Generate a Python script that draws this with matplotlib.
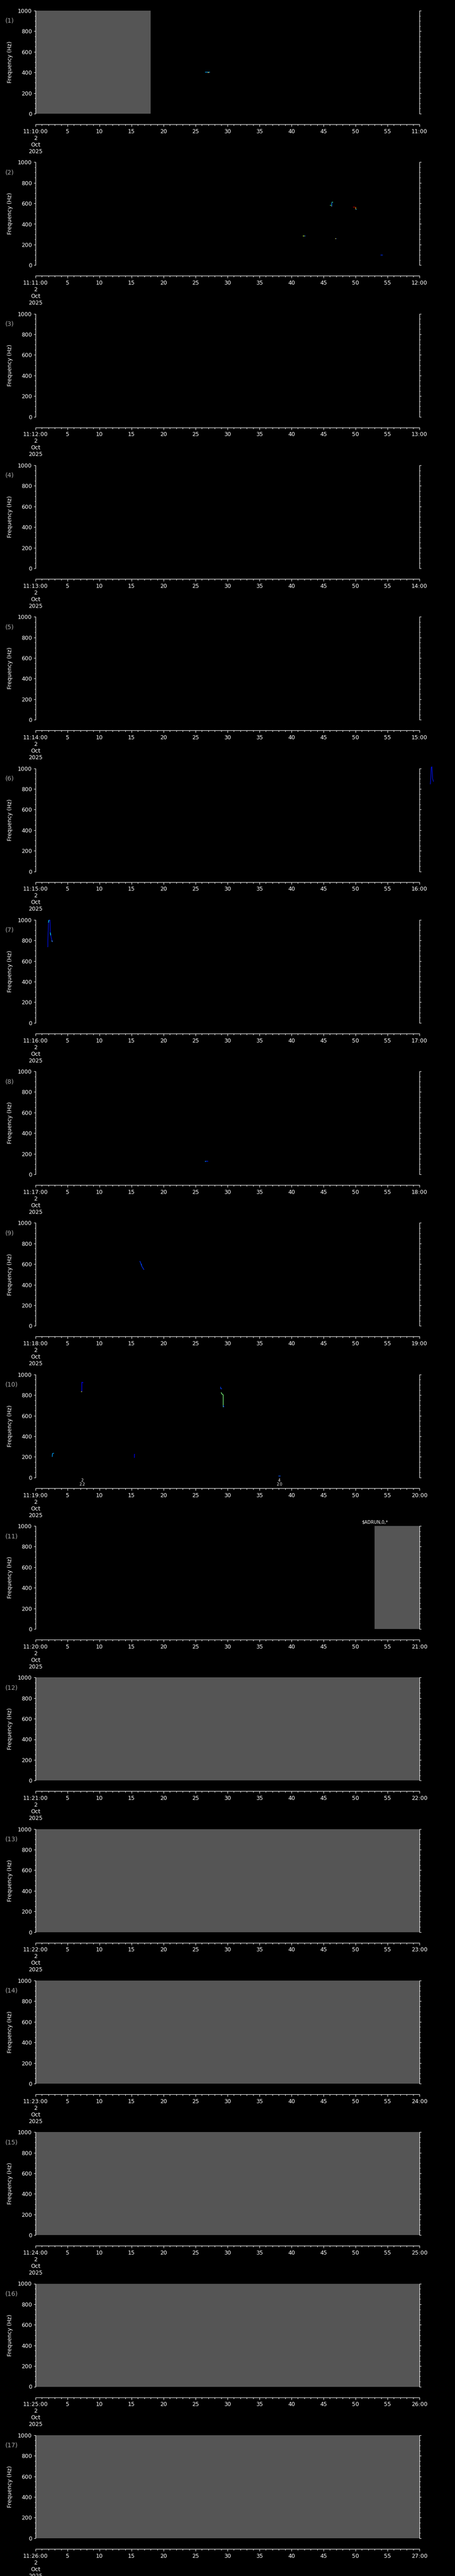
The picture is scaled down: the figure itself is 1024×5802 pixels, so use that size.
import matplotlib
matplotlib.use("Agg")
import matplotlib.pyplot as plt
from matplotlib.ticker import FixedLocator, MultipleLocator

# one panel per minute, 11:10 .. 11:26 on 2 Oct 2025
panel_minutes = list(range(10, 27))
x_major = [0, 5, 10, 15, 20, 25, 30, 35, 40, 45, 50, 55, 60]
y_major = [0, 200, 400, 600, 800, 1000]

# grey "no data" spans (panel number, start s, end s)
gray_panel = [1, 11, 12, 13, 14, 15, 16, 17]
gray_start = [0, 53, 0, 0, 0, 0, 0, 0]
gray_end = [18, 60, 60, 60, 60, 60, 60, 60]

# detected whistle traces (panel, seconds, Hz, colour)
trace_panel = [1, 1,
               2, 2, 2, 2, 2, 2, 2, 2, 2, 2, 2, 2,
               6,
               7, 7, 7, 7,
               8, 8,
               9, 9,
               10, 10, 10, 10, 10, 10, 10, 10]
trace_t = [[26.45, 27.2], [26.85, 27.05],
           [46.27, 46.27], [46.27, 46.45], [46.0, 46.2], [46.15, 46.25],
           [49.55, 49.95], [50.0, 50.0], [50.02, 50.15],
           [41.74, 42.03], [42.03, 42.15],
           [46.8, 46.92], [46.92, 46.98],
           [53.9, 54.24],
           [61.7, 61.75, 61.85, 61.95, 62.05, 62.2],
           [1.85, 1.92, 1.92, 2.03, 2.13, 2.27, 2.31, 2.38, 2.55, 2.62],
           [2.03, 2.07, 2.13],
           [2.31, 2.34, 2.38],
           [2.55, 2.62],
           [26.46, 26.92], [26.5, 26.6],
           [16.3, 16.5, 16.6, 16.8, 16.95], [16.5, 16.6],
           [7.23, 7.23, 7.3, 7.46], [7.06, 7.2],
           [28.91, 28.95, 29.14], [29.0, 29.14, 29.33, 29.33], [29.33, 29.45],
           [2.61, 2.65, 2.88],
           [15.4, 15.4, 15.5],
           [37.9, 38.25]]
trace_f = [[404, 404], [401, 401],
           [572, 610], [612, 612], [582, 582], [575, 575],
           [568, 568], [566, 545], [544, 544],
           [284, 284], [284, 284],
           [258, 258], [258, 258],
           [99, 99],
           [845, 880, 1010, 1015, 900, 870],
           [738, 738, 796, 973, 997, 997, 876, 850, 800, 786],
           [973, 995, 997],
           [876, 860, 850],
           [800, 786],
           [128, 128], [128, 124],
           [630, 600, 580, 560, 545], [600, 590],
           [831, 924, 924, 917], [834, 834],
           [880, 862, 860], [826, 809, 802, 683], [700, 683],
           [200, 232, 235],
           [194, 228, 228],
           [15, 15]]
trace_color = ['#00a8ff', '#ffb000',
               '#0080ff', '#40ffc0', '#60ff60', '#ff3000',
               '#c00000', '#ff9000', '#00c0ff',
               '#c0ff40', '#0060ff',
               '#ffff60', '#0040ff',
               '#0030ff',
               '#0010e0',
               '#0010e0', '#00e0ff', '#00e0ff', '#40a0ff',
               '#0020ff', '#00c0ff',
               '#0030ff', '#0070ff',
               '#0000ff', '#e0ff40',
               '#0040ff', '#80ff80', '#0040ff',
               '#00a0ff',
               '#0000ff',
               '#0050ff']

# small pulse annotations in panel 10 (seconds, top line, bottom line)
note_t = [7.27, 38.1]
note_top = ['2', '4']
note_bottom = ['2.2', '2.0']

# instrument message above panel 11
msg_t = 53
msg_text = '$ADRUN,0,*'

W, H = 1024, 5802
left_px, width_px = 80, 864
top0_px, step_px, height_px = 24, 341.3, 232

fig = plt.figure(figsize=(W / 100, H / 100), dpi=100, facecolor='black')

axes = []
for i, minute in enumerate(panel_minutes):
    top = top0_px + i * step_px
    ax = fig.add_axes([left_px / W, 1 - (top + height_px) / H, width_px / W, height_px / H])
    ax.set_facecolor('black')
    ax.set_xlim(0, 60)
    ax.set_ylim(0, 1000)

    ax.spines['top'].set_visible(False)
    ax.spines['bottom'].set_position(('outward', 17.3))
    for s in ['bottom', 'left', 'right']:
        ax.spines[s].set_color('white')
        ax.spines[s].set_linewidth(0.8)

    ax.xaxis.set_major_locator(FixedLocator(x_major))
    ax.xaxis.set_minor_locator(MultipleLocator(1))
    ax.yaxis.set_major_locator(FixedLocator(y_major))
    ax.yaxis.set_minor_locator(MultipleLocator(50))

    labels = [f'11:{minute}:00\n2\nOct\n2025'] + [str(v) for v in x_major[1:-1]] + [f'{minute + 1}:00']
    ax.set_xticklabels(labels, linespacing=1.2)

    ax.tick_params(axis='both', which='both', colors='white', direction='out', width=0.75,
                   labelsize=9, right=True, labelright=False)
    ax.tick_params(axis='x', which='major', length=3.6, pad=3.5)
    ax.tick_params(axis='x', which='minor', length=1.9)
    ax.tick_params(axis='y', which='major', length=2.9, pad=2.9)
    ax.tick_params(axis='y', which='minor', length=1.7)

    ax.text(-0.066, 0.5, 'Frequency (Hz)', transform=ax.transAxes, rotation=90,
            ha='center', va='center', color='white', fontsize=9)
    fig.text(12 / W, 1 - (top + 23) / H, f'({i + 1})', ha='left', va='center',
             color='#a8a8a8', fontsize=10)
    axes.append(ax)

for p, a, b in zip(gray_panel, gray_start, gray_end):
    axes[p - 1].axvspan(a, b, color='#555555', lw=0, zorder=1)

for p, t, f, c in zip(trace_panel, trace_t, trace_f, trace_color):
    axes[p - 1].plot(t, f, color=c, lw=1.0, clip_on=False, zorder=3,
                     solid_capstyle='butt')

ax10 = axes[9]
for t, a, b in zip(note_t, note_top, note_bottom):
    ax10.text(t, -28, a, ha='center', va='center', color='white', fontsize=6, clip_on=False)
    ax10.text(t, -70, b, ha='center', va='center', color='white', fontsize=6, clip_on=False)

axes[10].text(msg_t, 1037, msg_text, ha='center', va='center', color='white',
              fontsize=7, clip_on=False)

fig.savefig('out.png', dpi=100, facecolor='black')
